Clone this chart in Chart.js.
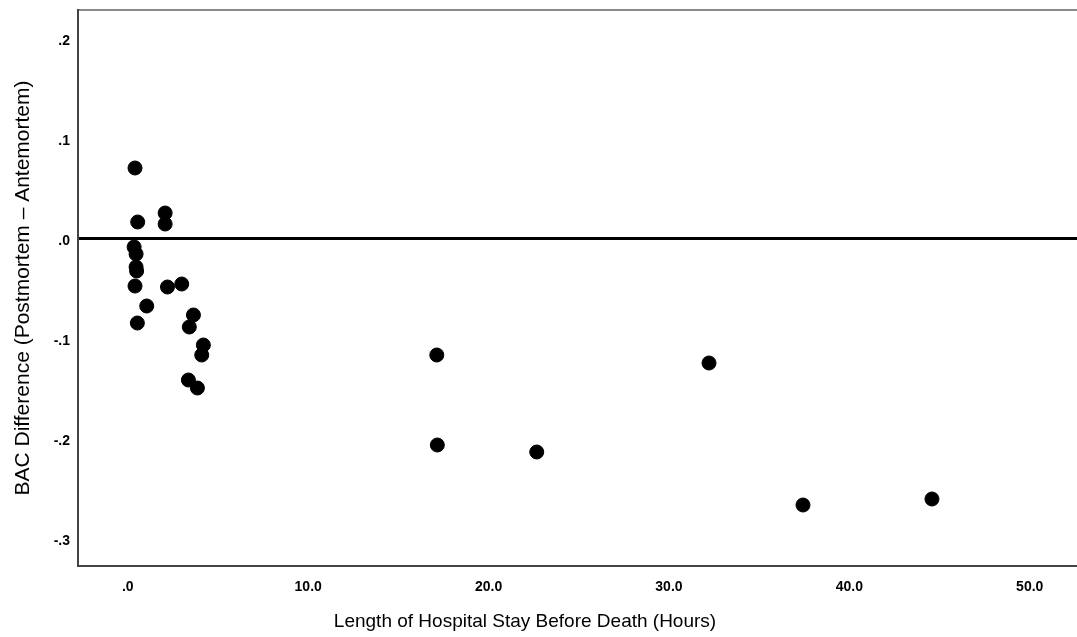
<!DOCTYPE html>
<html>
<head>
<meta charset="utf-8">
<script src="https://cdn.jsdelivr.net/npm/chart.js@4"></script>
<style>
  html, body { margin: 0; padding: 0; background: #fff; overflow: hidden; }
  /* plot runs off the right edge in the original, so the canvas is a bit wider than the window */
  #wrap { width: 1085px; height: 637px; position: relative; }
</style>
</head>
<body>
<div id="wrap"><canvas id="scatter"></canvas></div>
<script>
// hours in hospital before death
const hours = [0.40, 0.55, 2.07, 2.07, 0.35, 0.46, 0.46, 0.49, 0.40, 2.20, 2.99, 1.05, 0.53,
               3.64, 3.41, 4.19, 4.10, 3.36, 3.86, 17.13, 17.16, 22.67, 32.22, 37.43, 44.58];
// BAC difference (postmortem - antemortem)
const bacDiff = [0.070, 0.016, 0.025, 0.014, -0.009, -0.016, -0.029, -0.033, -0.048, -0.049, -0.046, -0.068, -0.085,
                 -0.077, -0.089, -0.107, -0.117, -0.142, -0.150, -0.117, -0.207, -0.214, -0.125, -0.267, -0.261];

const xTicks = [0, 10, 20, 30, 40, 50];
const yTicks = [0.2, 0.1, 0, -0.1, -0.2, -0.3];
const xRange = [-2.76, 52.62];
const yRange = [-0.328, 0.228];
const refValue = 0;
const xTitle = 'Length of Hospital Stay Before Death (Hours)';
const yTitle = 'BAC Difference (Postmortem \u2013 Antemortem)';

const points = hours.map((h, i) => ({ x: h, y: bacDiff[i] }));

// SPSS style: drop the leading zero
function spssLabel(v, digits) {
  let s = Math.abs(v).toFixed(digits);
  if (s.startsWith('0')) s = s.slice(1);
  return (v < -1e-9 ? '-' : '') + s;
}
function keepTicks(list) {
  return function (scale) {
    scale.ticks = list.map(v => ({ value: v }));
  };
}
function noPad(s) {
  s.paddingLeft = 0; s.paddingRight = 0; s.paddingTop = 0; s.paddingBottom = 0;
}

const fam = 'Liberation Sans, Arial, sans-serif';
const tickFont = { family: fam, size: 14, weight: 'bold' };

// x title sits left of centre in the original, so draw it by hand
const xTitlePlugin = {
  id: 'xTitle',
  afterDraw(chart) {
    const ctx = chart.ctx, a = chart.chartArea;
    ctx.save();
    ctx.font = '19px ' + fam;
    ctx.fillStyle = '#000';
    ctx.textAlign = 'center';
    ctx.textBaseline = 'middle';
    ctx.fillText(xTitle, a.left + 447, a.bottom + 56);
    ctx.restore();
  }
};

new Chart(document.getElementById('scatter'), {
  type: 'scatter',
  data: {
    datasets: [{
      data: points,
      backgroundColor: '#000',
      borderColor: '#000',
      borderWidth: 1,
      pointRadius: 7,
      pointHoverRadius: 7
    }]
  },
  options: {
    responsive: true,
    maintainAspectRatio: false,
    animation: false,
    layout: { padding: { top: 10, right: 0, left: 0, bottom: 0 } },
    plugins: { legend: { display: false }, tooltip: { enabled: false } },
    scales: {
      x: {
        type: 'linear',
        min: xRange[0],
        max: xRange[1],
        afterBuildTicks: keepTicks(xTicks),
        afterFit: s => { s.height = 71; noPad(s); },
        grid: { display: false },
        border: { display: true, color: '#444', width: 2 },
        ticks: { color: '#000', font: tickFont, padding: 5, maxRotation: 0,
                 callback: v => spssLabel(v, 1) },
        title: { display: false }
      },
      xTop: {
        type: 'linear',
        position: 'top',
        min: xRange[0],
        max: xRange[1],
        afterFit: s => { s.height = 0; noPad(s); },
        grid: { display: false },
        border: { display: true, color: '#8a8a8a', width: 2 },
        ticks: { display: false }
      },
      y: {
        type: 'linear',
        min: yRange[0],
        max: yRange[1],
        afterBuildTicks: keepTicks(yTicks),
        afterFit: s => { s.width = 78; noPad(s); },
        grid: {
          drawTicks: false,
          color: c => (c.tick && Math.abs(c.tick.value - refValue) < 1e-9) ? '#000' : 'rgba(0,0,0,0)',
          lineWidth: c => (c.tick && Math.abs(c.tick.value - refValue) < 1e-9) ? 3 : 0
        },
        border: { display: true, color: '#444', width: 2 },
        ticks: { color: '#000', font: tickFont, padding: 8, labelOffset: 3,
                 callback: v => spssLabel(v, 1) },
        title: { display: true, text: yTitle,
                 color: '#000', font: { family: fam, size: 21 }, padding: { top: 11, bottom: 0 } }
      }
    }
  },
  plugins: [xTitlePlugin]
});
</script>
</body>
</html>
